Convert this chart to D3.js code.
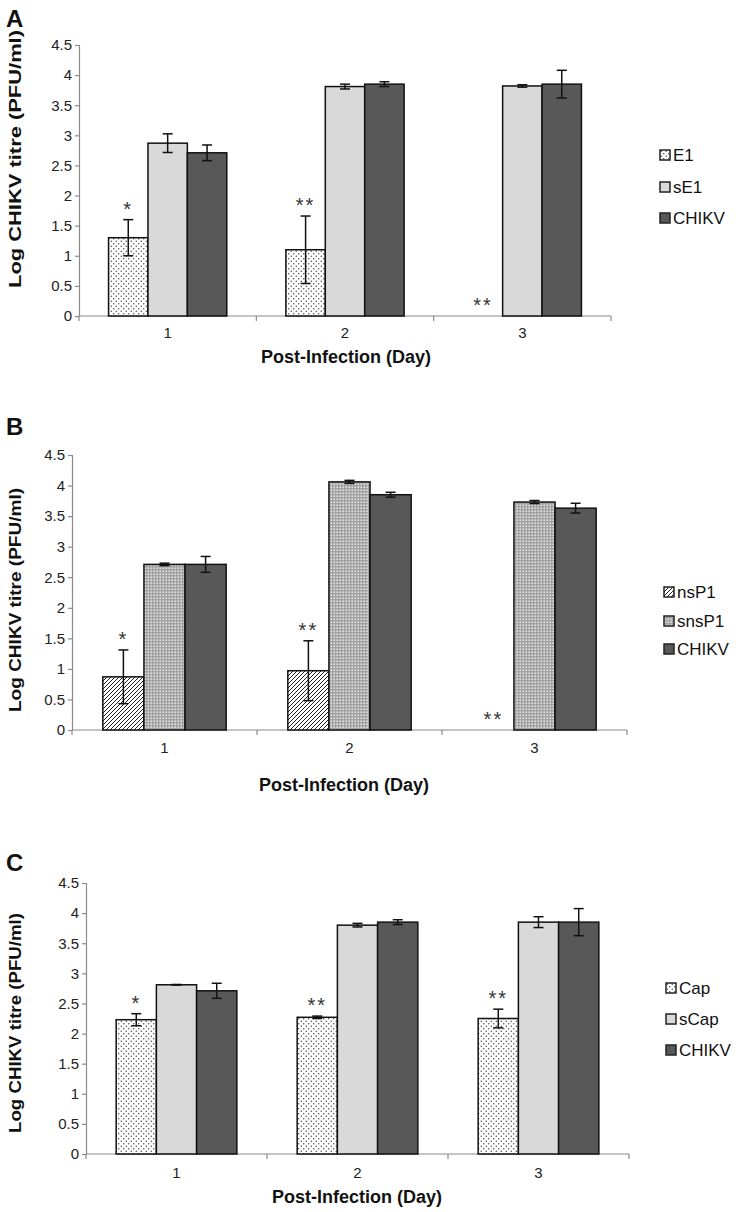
<!DOCTYPE html>
<html>
<head>
<meta charset="utf-8">
<script src="https://cdn.jsdelivr.net/npm/d3@7"></script>
<style>
  html, body { margin: 0; padding: 0; background: #fff; }
  svg { display: block; font-family: "Liberation Sans", Arial, sans-serif; }
</style>
</head>
<body>
<svg id="chart" width="738" height="1212"></svg>
<script>
// ---------- DATA ----------
const days = ["1", "2", "3"];
const yTicks = [0, 0.5, 1, 1.5, 2, 2.5, 3, 3.5, 4, 4.5];

// Panel A
const seriesA = ["E1", "sE1", "CHIKV"];
const A_E1 = [1.30, 1.10, 0];
const A_E1_err = [0.30, 0.56, 0];
const A_sE1 = [2.87, 3.81, 3.82];
const A_sE1_err = [0.155, 0.04, 0.02];
const A_CHIKV = [2.71, 3.85, 3.85];
const A_CHIKV_err = [0.13, 0.04, 0.23];
const sigA = ["*", "**", "**"];

// Panel B
const seriesB = ["nsP1", "snsP1", "CHIKV"];
const B_nsP1 = [0.87, 0.97, 0];
const B_nsP1_err = [0.44, 0.49, 0];
const B_snsP1 = [2.71, 4.06, 3.73];
const B_snsP1_err = [0.02, 0.025, 0.025];
const B_CHIKV = [2.71, 3.85, 3.63];
const B_CHIKV_err = [0.13, 0.04, 0.08];
const sigB = ["*", "**", "**"];

// Panel C
const seriesC = ["Cap", "sCap", "CHIKV"];
const C_Cap = [2.23, 2.27, 2.25];
const C_Cap_err = [0.10, 0.02, 0.155];
const C_sCap = [2.81, 3.80, 3.85];
const C_sCap_err = [0.005, 0.03, 0.09];
const C_CHIKV = [2.71, 3.85, 3.85];
const C_CHIKV_err = [0.125, 0.04, 0.225];
const sigC = ["*", "**", "**"];

const yTitle = "Log CHIKV titre (PFU/ml)";
const xTitle = "Post-Infection (Day)";

// ---------- LAYOUT ----------
const panels = [
  { letter: "A", letterY: 27, series: seriesA,
    values: [A_E1, A_sE1, A_CHIKV], errors: [A_E1_err, A_sE1_err, A_CHIKV_err], sig: sigA,
    fills: ["url(#dots)", "#d9d9d9", "#585858"],
    x0: 79, x1: 611, yTop: 45, yBot: 316,
    yTitleY: 159, yTitleLen: 258, xTitleX: 346, xTitleY: 363, xLabY: 338,
    legX: 660, legY: [155, 187, 218] },
  { letter: "B", letterY: 435, series: seriesB,
    values: [B_nsP1, B_snsP1, B_CHIKV], errors: [B_nsP1_err, B_snsP1_err, B_CHIKV_err], sig: sigB,
    fills: ["url(#hatch)", "url(#checker)", "#585858"],
    x0: 72, x1: 627, yTop: 455, yBot: 730,
    yTitleY: 600, yTitleLen: 224, xTitleX: 344, xTitleY: 791, xLabY: 753,
    legX: 664, legY: [592, 621, 649] },
  { letter: "C", letterY: 871, series: seriesC,
    values: [C_Cap, C_sCap, C_CHIKV], errors: [C_Cap_err, C_sCap_err, C_CHIKV_err], sig: sigC,
    fills: ["url(#dots)", "#d9d9d9", "#585858"],
    x0: 86, x1: 629, yTop: 883, yBot: 1154,
    yTitleY: 1023, yTitleLen: 220, xTitleX: 357, xTitleY: 1203, xLabY: 1178,
    legX: 666, legY: [988, 1019, 1050] }
];

const svg = d3.select("#chart");
svg.append("rect").attr("width", 738).attr("height", 1212).attr("fill", "#fff");

// ---------- PATTERNS ----------
const defs = svg.append("defs");
const dots = defs.append("pattern").attr("id", "dots")
  .attr("patternUnits", "userSpaceOnUse").attr("width", 5).attr("height", 5);
dots.append("rect").attr("width", 5).attr("height", 5).attr("fill", "#fff");
dots.append("circle").attr("cx", 1.25).attr("cy", 1.25).attr("r", 0.65).attr("fill", "#333");
dots.append("circle").attr("cx", 3.75).attr("cy", 3.75).attr("r", 0.65).attr("fill", "#333");

const hatch = defs.append("pattern").attr("id", "hatch")
  .attr("patternUnits", "userSpaceOnUse").attr("width", 4).attr("height", 4);
hatch.append("rect").attr("width", 4).attr("height", 4).attr("fill", "#fff");
hatch.append("path").attr("d", "M-1,1 l2,-2 M0,4 l4,-4 M3,5 l2,-2")
  .attr("stroke", "#222").attr("stroke-width", 1);

const checker = defs.append("pattern").attr("id", "checker")
  .attr("patternUnits", "userSpaceOnUse").attr("width", 3).attr("height", 3);
checker.append("rect").attr("width", 3).attr("height", 3).attr("fill", "#a2a2a2");
checker.append("rect").attr("x", 0.5).attr("y", 0.5).attr("width", 1.4).attr("height", 1.4).attr("fill", "#f2f2f2");

// ---------- DRAW ----------
panels.forEach(p => {
  const g = svg.append("g");
  const y = d3.scaleLinear().domain([0, 4.5]).range([p.yBot, p.yTop]);
  const x = d3.scaleBand().domain(days).range([p.x0, p.x1])
    .paddingInner(1 / 3).paddingOuter(1 / 6);
  const xs = d3.scaleBand().domain(p.series).range([0, x.bandwidth()]);
  const step = x.step();

  // Panel letter
  g.append("text").attr("x", 6).attr("y", p.letterY)
    .attr("font-size", 24).attr("font-weight", "bold").attr("fill", "#111").text(p.letter);

  // Y axis
  const yAxis = g.append("g").attr("transform", `translate(${p.x0},0)`)
    .call(d3.axisLeft(y).tickValues(yTicks).tickFormat(d => String(d)).tickSize(4).tickPadding(3));
  yAxis.select(".domain").attr("stroke", "#8a8a8a").attr("stroke-width", 1.2);
  yAxis.selectAll(".tick line").attr("stroke", "#8a8a8a").attr("stroke-width", 1.2);
  yAxis.selectAll(".tick text").attr("font-size", 15).attr("fill", "#222")
    .attr("font-family", "Liberation Sans, Arial, sans-serif");

  // X axis line with boundary ticks
  const bounds = d3.range(days.length + 1).map(i => p.x0 + i * step);
  g.append("line").attr("x1", p.x0).attr("x2", p.x1).attr("y1", y(0)).attr("y2", y(0))
    .attr("stroke", "#8a8a8a").attr("stroke-width", 1.2);
  g.selectAll(".xb").data(bounds).enter().append("line")
    .attr("x1", d => d).attr("x2", d => d).attr("y1", y(0)).attr("y2", y(0) + 5)
    .attr("stroke", "#8a8a8a").attr("stroke-width", 1.2);
  g.selectAll(".xl").data(days).enter().append("text")
    .attr("x", d => x(d) + x.bandwidth() / 2).attr("y", p.xLabY)
    .attr("text-anchor", "middle").attr("font-size", 15).attr("fill", "#222").text(d => d);

  // Axis titles
  g.append("text")
    .attr("transform", `translate(21,${p.yTitleY}) rotate(-90)`)
    .attr("text-anchor", "middle").attr("font-size", 17).attr("font-weight", "bold")
    .attr("textLength", p.yTitleLen).attr("lengthAdjust", "spacingAndGlyphs")
    .attr("fill", "#111").text(yTitle);
  g.append("text").attr("x", p.xTitleX).attr("y", p.xTitleY)
    .attr("text-anchor", "middle").attr("font-size", 18).attr("font-weight", "bold")
    .attr("fill", "#111").text(xTitle);

  // Bars
  const rows = [];
  days.forEach((d, di) => {
    p.series.forEach((s, si) => {
      rows.push({ day: d, s, si, v: p.values[si][di], e: p.errors[si][di] });
    });
  });
  const bars = rows.filter(r => r.v > 0);
  g.selectAll(".bar").data(bars).enter().append("rect")
    .attr("x", r => x(r.day) + xs(r.s))
    .attr("y", r => y(r.v))
    .attr("width", xs.bandwidth())
    .attr("height", r => y(0) - y(r.v))
    .attr("fill", r => p.fills[r.si])
    .attr("stroke", "#111").attr("stroke-width", 1.5);

  // Error bars
  const errs = bars.filter(r => r.e > 0);
  const cx = r => x(r.day) + xs(r.s) + xs.bandwidth() / 2;
  const eb = g.selectAll(".err").data(errs).enter().append("g")
    .attr("stroke", "#111").attr("stroke-width", 1.5);
  eb.append("line").attr("x1", cx).attr("x2", cx)
    .attr("y1", r => y(r.v + r.e)).attr("y2", r => y(r.v - r.e));
  eb.append("line").attr("x1", r => cx(r) - 5).attr("x2", r => cx(r) + 5)
    .attr("y1", r => y(r.v + r.e)).attr("y2", r => y(r.v + r.e));
  eb.append("line").attr("x1", r => cx(r) - 5).attr("x2", r => cx(r) + 5)
    .attr("y1", r => y(r.v - r.e)).attr("y2", r => y(r.v - r.e));

  // Significance asterisks (over the first series)
  const first = rows.filter(r => r.si === 0);
  g.selectAll(".sig").data(first).enter().append("text")
    .attr("x", r => cx(r))
    .attr("y", r => y(r.v + r.e) - 15 + 11)
    .attr("text-anchor", "middle").attr("font-size", 20).attr("letter-spacing", 2)
    .attr("fill", "#333").text((r, i) => p.sig[i]);

  // Legend
  const leg = g.selectAll(".leg").data(p.series).enter().append("g")
    .attr("transform", (s, i) => `translate(${p.legX},${p.legY[i]})`);
  leg.append("rect").attr("x", 0).attr("y", -5).attr("width", 10).attr("height", 10)
    .attr("fill", (s, i) => p.fills[i]).attr("stroke", "#222").attr("stroke-width", 1.5);
  leg.append("text").attr("x", 13).attr("y", 6).attr("font-size", 17)
    .attr("fill", "#111").text(s => s);
});
</script>
</body>
</html>
